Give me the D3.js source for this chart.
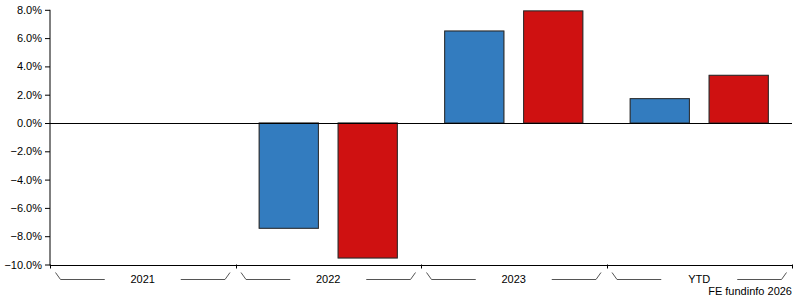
<!DOCTYPE html>
<html lang="en">
<head>
    <meta charset="UTF-8">
    <title>Discrete Performance</title>
    <script src="https://d3js.org/d3.v7.min.js"></script>
    <style>
        body {
            margin: 0;
            font-family: "Liberation Sans", Arial, sans-serif;
            background: #fff;
        }
        .axis text {
            font-size: 11px;
            fill: #000;
        }
    </style>
</head>
<body>
    <div id="chart"></div>

    <script>
        // Data
        const categories = ["2021", "2022", "2023", "YTD"];
        const series = ["fund", "sector"];
        const fundValues = [null, -7.44, 6.5, 1.72];
        const sectorValues = [null, -9.54, 7.92, 3.37];
        const colours = ["#337cbf", "#cf1111"];
        const yTicks = [8, 6, 4, 2, 0, -2, -4, -6, -8, -10];

        const W = 795, H = 300;
        const margin = {top: 10, right: 3, bottom: 35, left: 50};

        const svg = d3.select("#chart")
            .append("svg")
            .attr("width", W)
            .attr("height", H);

        // Scales
        const x0 = d3.scaleBand()
            .domain(categories)
            .range([margin.left, W - margin.right])
            .paddingInner(0)
            .paddingOuter(0);

        const x1 = d3.scaleBand()
            .domain(series)
            .range([0, x0.bandwidth()])
            .paddingInner(0.25)
            .paddingOuter(0.3);

        const y = d3.scaleLinear()
            .domain([-10, 8])
            .range([264.5, 9.8]);

        const fmt = d3.format(".1f");

        // Y axis
        svg.append("g")
            .attr("class", "axis")
            .attr("transform", `translate(${margin.left},0)`)
            .call(d3.axisLeft(y).tickValues(yTicks).tickSize(5).tickSizeOuter(0)
                .tickFormat(d => fmt(d) + "%"))
            .call(g => g.select(".domain").attr("d", `M0,${y(8)}V${y(-10) + 1}`))
            .call(g => g.selectAll("text").attr("x", -8));

        // Bars
        const rows = categories.map((c, i) => ({cat: c, vals: [fundValues[i], sectorValues[i]]}));

        const groups = svg.append("g")
            .selectAll("g")
            .data(rows)
            .join("g")
            .attr("transform", d => `translate(${x0(d.cat)},0)`);

        groups.selectAll("rect")
            .data(d => d.vals.map((v, j) => ({s: series[j], v, j})).filter(d => d.v !== null))
            .join("rect")
            .attr("x", d => x1(d.s))
            .attr("width", x1.bandwidth())
            .attr("y", d => y(Math.max(0, d.v)))
            .attr("height", d => Math.abs(y(d.v) - y(0)))
            .attr("fill", d => colours[d.j])
            .attr("stroke", "#2a2a2a")
            .attr("stroke-width", 1)
            .style("filter", "drop-shadow(0.6px 0 0.4px #999)");

        // Zero line
        svg.append("line")
            .attr("x1", margin.left)
            .attr("x2", W - margin.right)
            .attr("y1", Math.round(y(0)) + 0.5)
            .attr("y2", Math.round(y(0)) + 0.5)
            .attr("stroke", "#000");

        // Bottom axis line with category ticks
        const baseY = 265.5;
        const xAxis = svg.append("g").attr("class", "axis");
        xAxis.append("line")
            .attr("x1", margin.left)
            .attr("x2", W - margin.right)
            .attr("y1", baseY)
            .attr("y2", baseY)
            .attr("stroke", "#000");

        const edges = categories.map(c => x0(c)).concat([x0(categories[categories.length - 1]) + x0.bandwidth()]);
        xAxis.selectAll(".tick-mark")
            .data(edges)
            .join("line")
            .attr("class", "tick-mark")
            .attr("x1", d => Math.round(d) + 0.5)
            .attr("x2", d => Math.round(d) + 0.5)
            .attr("y1", baseY - 1)
            .attr("y2", baseY + 3)
            .attr("stroke", "#000");

        // Category labels with bracket lines
        const cats = xAxis.selectAll(".cat")
            .data(categories)
            .join("g")
            .attr("class", "cat")
            .attr("transform", d => `translate(${x0(d)},0)`);

        const bw = x0.bandwidth();
        cats.append("text")
            .attr("x", bw / 2)
            .attr("y", 283)
            .attr("text-anchor", "middle")
            .text(d => d);

        cats.append("path")
            .attr("fill", "none")
            .attr("stroke", "#555")
            .attr("d", `M5.5,272.5L10.5,279.5H${bw / 2 - 38}M${bw / 2 + 38},279.5H${bw - 10.5}L${bw - 5.5},272.5`);

        // Credit
        svg.append("text")
            .attr("x", W - 3)
            .attr("y", 295)
            .attr("text-anchor", "end")
            .style("font-size", "11px")
            .text("FE fundinfo 2026");
    </script>
</body>
</html>
